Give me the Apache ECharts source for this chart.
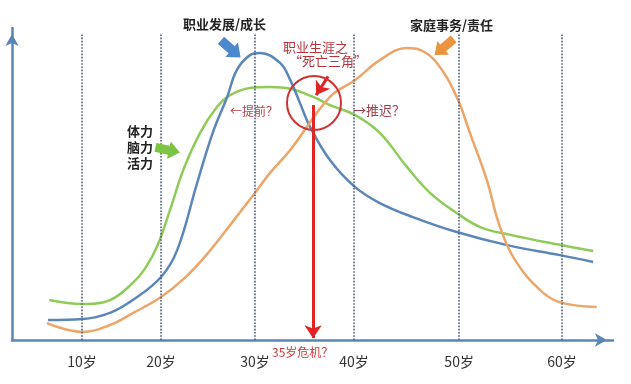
<!DOCTYPE html>
<html><head><meta charset="utf-8">
<script src="https://cdn.jsdelivr.net/npm/echarts@6/dist/echarts.min.js"></script>
<style>html,body{margin:0;padding:0;background:#fff}#c{width:631px;height:384px}</style>
</head><body><div id="c"></div>
<script>
// x axis: relative position scale 0..100 (ages are spaced unevenly in the source picture)
const tickPositions = [11.65, 24.79, 40.43, 56.9, 74.4, 91.5];
const tickLabels = ['10岁', '20岁', '30岁', '40岁', '50岁', '60岁'];

// 体力/脑力/活力 (green)
const vitality = [[6.2,12.8],[11.7,11.5],[16.3,12.8],[20.1,18.3],[22.1,22.8],[24.1,29.8],[26.3,41.7],[28.5,54.5],[31.3,66.4],[34.1,74.7],[36.3,78.5],[39.6,80.8],[42.9,81.1],[46.3,80.5],[50.1,77.9],[52.9,75.3],[57.1,72.1],[61.2,66.4],[65.7,55.5],[69.6,47.1],[74.0,40.7],[77.9,36.2],[82.9,33.7],[91.2,30.5],[96.7,28.5]];
// 职业发展/成长 (blue)
const career = [[6.0,6.4],[11.7,6.7],[16.3,8.7],[20.1,12.8],[24.8,20.2],[27.5,28.9],[30.8,50.3],[33.4,66.4],[35.8,77.9],[37.4,86.5],[39.6,91.3],[41.3,92.0],[44.6,88.8],[46.3,83.3],[47.9,76.0],[49.6,68.3],[52.9,57.7],[57.1,49.0],[61.2,43.9],[66.7,39.4],[74.0,34.6],[82.4,30.4],[91.2,27.2],[96.7,25.0]];
// 家庭事务/责任 (orange)
const family = [[5.8,5.4],[11.7,2.6],[16.3,4.8],[20.1,8.6],[24.8,13.8],[28.8,20.0],[32.5,27.6],[36.8,38.1],[40.8,48.1],[42.9,53.5],[46.3,60.9],[52.9,77.9],[57.1,83.3],[61.2,89.7],[65.7,93.6],[67.9,93.0],[70.7,88.8],[74.0,77.9],[76.2,66.3],[79.0,51.3],[81.2,36.2],[84.0,24.7],[88.4,15.1],[91.5,11.9],[97.3,10.6]];

// annotation anchors (data units)
const crisisX = 50.1;
const triangleCenter = [50.25, 76.0];

const FONT = '"Noto Sans CJK SC", "Noto Sans", sans-serif';
const blockArrow = 'path://M0,4 L11,4 L11,0 L20,8 L11,16 L11,12 L0,12 Z';

const chart = echarts.init(document.getElementById('c'));
const lineSeries = (name, data, color) => ({
  name, type: 'line', data, smooth: 0.4, symbol: 'none', z: 3,
  lineStyle: { color, width: 2.5 }
});

chart.setOption({
  animation: false,
  backgroundColor: '#fff',
  grid: { left: 12, right: 18, top: 28, bottom: 44 },
  xAxis: {
    type: 'value', min: 0, max: 100,
    splitLine: { show: false },
    axisLine: { lineStyle: { color: '#5a86b6', width: 2.5 }, symbol: ['none', 'arrow'], symbolSize: [10, 12], symbolOffset: [0, -6] },
    axisTick: { show: false },
    axisLabel: {
      customValues: tickPositions, margin: 15, color: '#333', fontSize: 14, fontFamily: FONT,
      formatter: v => { const i = tickPositions.findIndex(t => Math.abs(t - v) < 0.01); return i >= 0 ? tickLabels[i] : ''; }
    }
  },
  yAxis: {
    type: 'value', min: 0, max: 100,
    splitLine: { show: false },
    axisLine: { show: true, lineStyle: { color: '#5a86b6', width: 2.5 }, symbol: ['none', 'arrow'], symbolSize: [10, 12], symbolOffset: [0, -6] },
    axisTick: { show: false }, axisLabel: { show: false }
  },
  series: [
    {
      type: 'line', data: [], silent: true, z: 1,
      markLine: {
        silent: true, symbol: ['none', 'none'], label: { show: false },
        lineStyle: { type: 'dotted', color: '#4a5a78', width: 1.6 },
        data: tickPositions.map(x => [{ coord: [x, 0] }, { coord: [x, 98.5] }])
      }
    },
    {
      type: 'line', data: [], silent: true, z: 2,
      markLine: {
        silent: true, symbol: ['none', 'none'], label: { show: false },
        lineStyle: { type: 'solid', color: '#5a86b6', width: 2.5 },
        data: tickPositions.map(x => [{ coord: [x, -2.2] }, { coord: [x, 2.2] }])
      }
    },
    lineSeries('体力脑力活力', vitality, '#8fcb58'),
    lineSeries('职业发展/成长', career, '#5b86b8'),
    lineSeries('家庭事务/责任', family, '#eba668'),
    {
      type: 'line', data: [], silent: true, z: 5,
      markLine: {
        silent: true, symbol: ['none', 'arrow'], symbolSize: 13, label: { show: false },
        lineStyle: { type: 'solid', color: '#e02424', width: 3 },
        data: [
          [{ coord: [crisisX, 75.3] }, { coord: [crisisX, 0.6] }],
          [{ coord: [52.6, 84.5] }, { coord: [50.6, 78.5] }]
        ]
      },
      markPoint: {
        silent: true, label: { show: false },
        data: [
          { coord: triangleCenter, symbol: 'circle', symbolSize: 54, itemStyle: { color: 'rgba(0,0,0,0)', borderColor: '#cc3333', borderWidth: 2 } },
          { coord: [36.4, 93.3], symbol: blockArrow, symbolSize: [26, 19], symbolRotate: -41, itemStyle: { color: '#4c88cc' } },
          { coord: [25.9, 60.9], symbol: blockArrow, symbolSize: [25, 18], symbolRotate: -12, itemStyle: { color: '#7dc444' } },
          { coord: [71.9, 93.9], symbol: blockArrow, symbolSize: [25, 18], symbolRotate: -140, itemStyle: { color: '#ea9440' } }
        ]
      }
    }
  ],
  graphic: [
    { type: 'text', left: 183, top: 18, style: { text: '职业发展/成长', font: 'bold 13px ' + FONT, fill: '#222' } },
    { type: 'text', left: 410, top: 19, style: { text: '家庭事务/责任', font: 'bold 13px ' + FONT, fill: '#222' } },
    { type: 'text', left: 127, top: 123, style: { text: '体力\n脑力\n活力', font: 'bold 13px ' + FONT, fill: '#222', lineHeight: 16 } },
    { type: 'text', left: 283, top: 41, style: { text: '职业生涯之', font: '13px ' + FONT, fill: '#b8323a' } },
    { type: 'text', left: 289, top: 55, style: { text: '“死亡三角”', font: '13px ' + FONT, fill: '#b8323a' } },
    { type: 'text', left: 230, top: 105, style: { text: '←提前？', font: '12px ' + FONT, fill: '#b04048' } },
    { type: 'text', left: 353, top: 104, style: { text: '→推迟？', font: '13px ' + FONT, fill: '#9a3a4a' } },
    { type: 'text', left: 272, top: 346, style: { text: '35岁危机？', font: '12px ' + FONT, fill: '#d03a3a' } }
  ]
});
</script></body></html>
